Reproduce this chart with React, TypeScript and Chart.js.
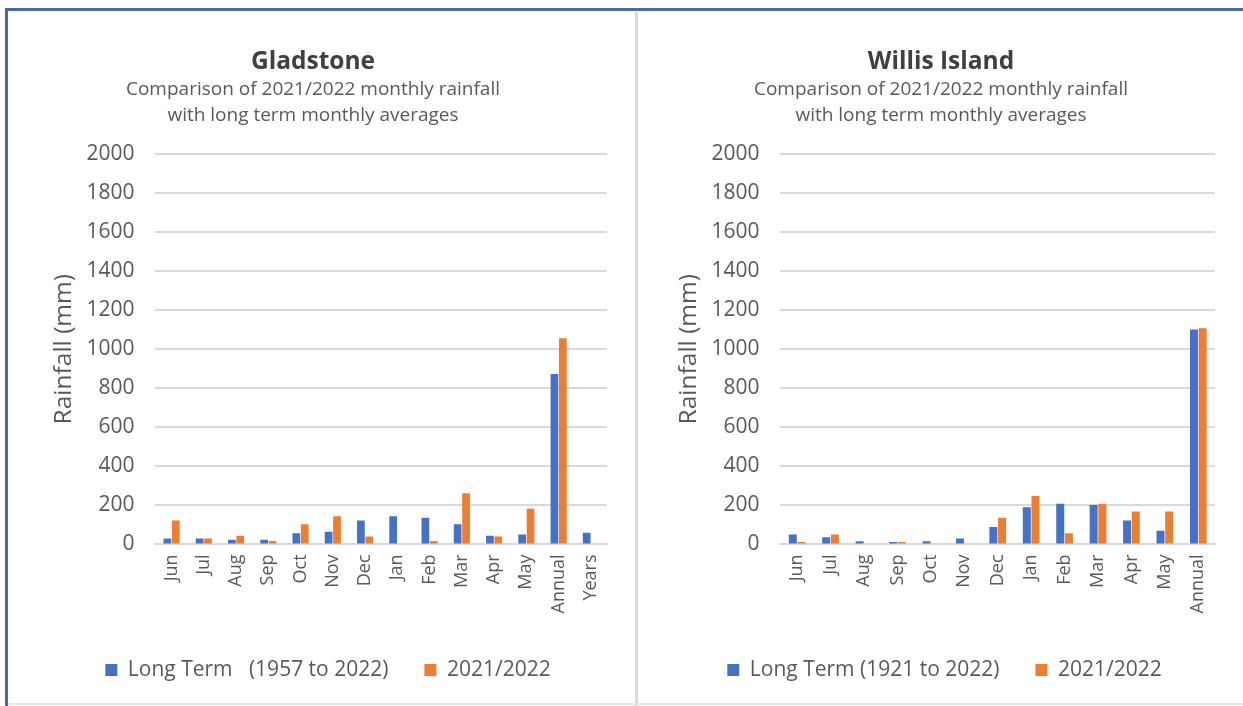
import React, { useEffect, useRef } from "react";
import { Chart, registerables } from "chart.js";

Chart.register(...registerables);

const gladstoneCategories = ["Jun", "Jul", "Aug", "Sep", "Oct", "Nov", "Dec", "Jan", "Feb", "Mar", "Apr", "May", "Annual", "Years"];
const gladstoneLongTerm = [31, 31, 24, 24, 58, 65, 123, 144, 137, 104, 44, 51, 873, 60];
const gladstoneCurrent = [123, 31, 44, 18, 104, 144, 41, 0, 18, 262, 41, 183, 1056, null];

const willisCategories = ["Jun", "Jul", "Aug", "Sep", "Oct", "Nov", "Dec", "Jan", "Feb", "Mar", "Apr", "May", "Annual"];
const willisLongTerm = [51, 37, 17, 12, 17, 31, 90, 190, 209, 202, 123, 70, 1101];
const willisCurrent = [12, 51, 0, 12, 0, 0, 137, 248, 58, 209, 169, 169, 1108];

const yTicks = [0, 200, 400, 600, 800, 1000, 1200, 1400, 1600, 1800, 2000];

const subtitleLines = ["Comparison of 2021/2022 monthly rainfall", "with long term monthly averages"];

const FONT = "'Open Sans', sans-serif";
const TEXT = "#595959";
const GRID = "#d9d9d9";
const BLUE = "#4472C4";
const ORANGE = "#ED7D31";

type Cfg = {
  title: string;
  categories: string[];
  longTerm: (number | null)[];
  current: (number | null)[];
  longLabel: string;
  width: number;
  padLeft: number;
  padRight: number;
};

function RainChart({ cfg }: { cfg: Cfg }) {
  const ref = useRef<HTMLCanvasElement | null>(null);
  useEffect(() => {
    if (!ref.current) return;
    const chart = new Chart(ref.current, {
      type: "bar",
      data: {
        labels: cfg.categories,
        datasets: [
          { label: cfg.longLabel, data: cfg.longTerm, backgroundColor: BLUE, borderWidth: 0 },
          { label: "2021/2022", data: cfg.current, backgroundColor: ORANGE, borderWidth: 0 },
        ],
      },
      options: {
        animation: false,
        responsive: false,
        maintainAspectRatio: false,
        datasets: { bar: { categoryPercentage: 0.52, barPercentage: 0.92 } },
        layout: { padding: { top: 142, left: cfg.padLeft, right: cfg.padRight, bottom: 13.5 } },
        plugins: {
          title: { display: false },
          subtitle: { display: false },
          legend: {
            position: "bottom",
            labels: {
              color: TEXT,
              font: { family: FONT, size: 21 },
              boxWidth: 12,
              boxHeight: 12,
              padding: 36,
            },
          },
          tooltip: { enabled: false },
        },
        scales: {
          x: {
            grid: { display: false },
            border: { display: true, color: GRID, width: 2 },
            ticks: {
              color: TEXT,
              font: { family: FONT, size: 18 },
              maxRotation: 90,
              minRotation: 90,
              padding: 2,
              autoSkip: false,
            },
            afterFit: (s: any) => {
              s.height += 8;
            },
          },
          y: {
            min: 0,
            max: 2000,
            afterBuildTicks: (axis: any) => {
              axis.ticks = yTicks.map((v) => ({ value: v }));
            },
            afterFit: (s: any) => {
              s.width -= 13;
            },
            grid: { color: GRID, lineWidth: 2, drawTicks: false },
            border: { display: false },
            ticks: {
              color: TEXT,
              font: { family: FONT, size: 21 },
              padding: 21,
              callback: (v: any) => String(v),
            },
            title: {
              display: true,
              text: "Rainfall (mm)",
              color: TEXT,
              font: { family: FONT, size: 24.5 },
              padding: 0,
            },
          },
        },
      },
    });
    return () => chart.destroy();
  }, [cfg]);
  return <canvas ref={ref} width={cfg.width} height={692} />;
}

const leftCfg: Cfg = {
  title: "Gladstone",
  categories: gladstoneCategories,
  longTerm: gladstoneLongTerm,
  current: gladstoneCurrent,
  longLabel: "Long Term   (1957 to 2022)",
  width: 622,
  padLeft: 39,
  padRight: 25,
};

const rightCfg: Cfg = {
  title: "Willis Island",
  categories: willisCategories,
  longTerm: willisLongTerm,
  current: willisCurrent,
  longLabel: "Long Term (1921 to 2022)",
  width: 600,
  padLeft: 34,
  padRight: 25,
};

function Heading({ title, centerX }: { title: string; centerX: number }) {
  return (
    <div
      style={{
        position: "absolute",
        left: centerX - 250,
        width: 500,
        top: 44,
        textAlign: "center",
        fontFamily: FONT,
        color: TEXT,
        whiteSpace: "nowrap",
      }}
    >
      <div style={{ fontSize: 24.5, fontWeight: "bold", color: "#404040", lineHeight: "31px" }}>{title}</div>
      {subtitleLines.map((l) => (
        <div key={l} style={{ fontSize: 19, lineHeight: "26px" }}>
          {l}
        </div>
      ))}
    </div>
  );
}

export default function App() {
  return (
    <div style={{ position: "fixed", left: 0, top: 0, width: 1243, height: 706, background: "#fff", overflow: "hidden" }}>
      <div style={{ position: "absolute", left: 5, top: 8, width: 1238, height: 2.5, background: "#4a67b0" }} />
      <div style={{ position: "absolute", left: 5, top: 8, width: 2.5, height: 698, background: "#4a67b0" }} />
      <div style={{ position: "absolute", left: 635, top: 12, width: 3, height: 694, background: "#d9d9d9" }} />
      <div style={{ position: "absolute", left: 8, top: 703, width: 1235, height: 2, background: "#e8e8e0" }} />
      <div style={{ position: "absolute", left: 10, top: 12, width: 622, height: 692 }}>
        <RainChart cfg={leftCfg} />
      </div>
      <div style={{ position: "absolute", left: 640, top: 12, width: 600, height: 692 }}>
        <RainChart cfg={rightCfg} />
      </div>
      <Heading title="Gladstone" centerX={313} />
      <Heading title="Willis Island" centerX={941} />
    </div>
  );
}
